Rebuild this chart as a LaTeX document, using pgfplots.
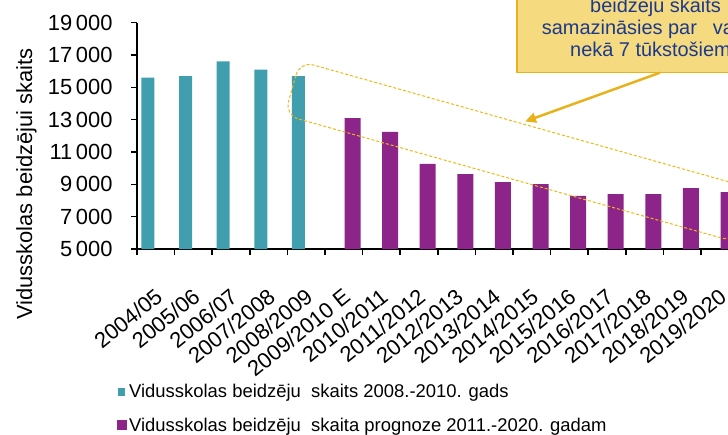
\documentclass[border=0pt]{standalone}
\usepackage{fontspec}
\setmainfont{Liberation Sans}
\usepackage{pgfplots}
\pgfplotsset{compat=1.18}
\usetikzlibrary{calc,arrows.meta}
\definecolor{tealbar}{RGB}{64,158,175}
\definecolor{purplebar}{RGB}{140,36,138}
\definecolor{callfill}{RGB}{245,218,128}
\definecolor{calledge}{RGB}{232,178,28}
\definecolor{calltext}{RGB}{28,58,140}
\definecolor{dashcol}{RGB}{237,185,20}
\begin{document}
\begin{tikzpicture}
\begin{axis}[
  scale only axis, width=601.6bp, height=226.3bp,
  xmin=-0.5, xmax=15.5, ymin=5000, ymax=19000,
  axis x line*=bottom, axis y line*=left,
  axis line style={line width=2bp, -},
  ytick={5000,7000,...,19000},
  scaled y ticks=false,
  xtick={-0.5,0.5,...,15.5},
  xticklabels={},
  extra x ticks={0,...,15},
  extra x tick labels={2004/05,2005/06,2006/07,2007/2008,2008/2009,2009/2010 E,2010/2011,2011/2012,2012/2013,2013/2014,2014/2015,2015/2016,2016/2017,2017/2018,2018/2019,2019/2020},
  extra x tick style={major tick length=0pt},
  tick align=outside,
  tick style={line width=1.5bp, black},
  major tick length=6bp,
  /pgf/number format/assume math mode=true,
  /pgf/number format/1000 sep={\,},
  yticklabel style={font=\fontsize{22}{26}\selectfont, xshift=-15bp},
  xticklabel style={xshift=-2bp, yshift=-38bp, font=\fontsize{22}{26}\selectfont, rotate=39, anchor=north east, inner sep=0pt},
  legend style={draw=none, fill=none, at={(axis description cs:0,0)}, anchor=north west,
    xshift=-20bp, yshift=-133bp, font=\fontsize{18.5}{22}\selectfont, row sep=15bp, inner sep=0pt},
  legend cell align=left,
]
\addplot[ybar, bar width=13bp, bar shift=-7.8bp, fill=tealbar, draw=none,
  legend image code/.code={\fill[tealbar] (0bp,-4bp) rectangle (7bp,4bp);}]
  coordinates {(0,15600) (1,15700) (2,16600) (3,16100) (4,15700)};
\addlegendentry{Vidusskolas beidzēju\ \ skaits 2008.-2010. gads}
\addplot[ybar, bar width=16bp, bar shift=8.7bp, fill=purplebar, draw=none,
  legend image code/.code={\fill[purplebar] (-1bp,-5bp) rectangle (9bp,5bp);}]
  coordinates {(5,13100) (6,12240) (7,10260) (8,9640) (9,9140) (10,9020) (11,8280) (12,8400) (13,8400) (14,8770) (15,8525)};
\addlegendentry{Vidusskolas beidzēju\ \ skaita prognoze 2011.-2020. gadam}
\coordinate (AO) at (rel axis cs:0,0);
\end{axis}
\begin{scope}[x=1bp, y=-1bp, shift={($(AO)+(-137bp,249bp)$)}]
  \node[rotate=90, font=\fontsize{22}{26}\selectfont, inner sep=0pt] at (26.5,184) {Vidusskolas beidzējui skaits};
  \draw[dashcol, line width=1bp, dash pattern=on 3bp off 2bp, rounded corners=14bp]
    (292.3,88.15) -- (299.9,61.2) -- (750.6,188.0) -- (735.4,241.9) -- (284.7,115.1) -- cycle;
  \draw[calledge, fill=callfill, line width=1.5bp] (517,-10) rectangle (790,72.7);
  \begin{scope}[every node/.style={anchor=base west, inner sep=0pt, text=calltext, font=\fontsize{20}{24}\selectfont}]
    \node at (590,12.7) {beidzēju skaits};
    \node at (541.7,35) {samazināsies par\hspace{0.8em}vairāk};
    \node at (570,56.7) {nekā 7 tūkstošiem};
  \end{scope}
  \draw[calledge, line width=2.5bp, -{Triangle[length=11bp,width=10bp]}] (660,72.7) -- (525,121.5);
\end{scope}
\pgfresetboundingbox
\path ($(AO)+(-137bp,-186bp)$) rectangle ++(728bp,435bp);
\end{tikzpicture}
\end{document}
